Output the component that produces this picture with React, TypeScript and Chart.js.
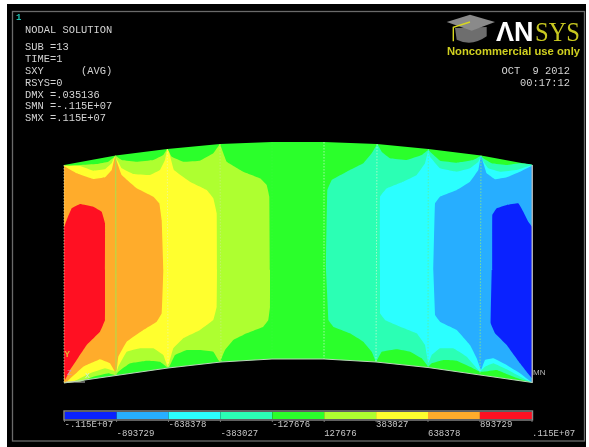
import React, { useEffect, useRef } from "react";
import { Chart, registerables } from "chart.js";

Chart.register(...registerables);

type P = [number, number];

const topEdge: P[] = [[64,165],[115.7,155.5],[167.3,149],[220,144],[272,142],[324,142],[377,144],[428.3,149],[481,155.5],[532.3,165]];
const bottomEdge: P[] = [[64,383],[116,375.5],[168,368],[221,362],[272,359],[324,359],[376,362],[428,367.5],[480,375],[532.3,382.5]];

const contourLevel5: P[] = [[64,166],[80,165],[96.7,164],[108.3,161.7],[114,157.3],[115.7,155.7],[121.7,160],[136.7,161.7],[153.3,160],[163.3,155],[167.3,149],[171.7,156.7],[183.3,161.7],[200,160.7],[213.3,153.3],[220,144.3],[226.7,161.7],[243.3,171.7],[260,178.3],[266.7,185],[269.3,196.7],[270,270],[270,306.7],[268.3,320],[263.3,326.7],[246.7,333.3],[233.3,340],[225,350],[220,361.7],[218.3,360],[213.3,351.7],[200,350],[186.7,350],[175,355],[169.3,366.7],[167.3,367.3],[160,361.7],[146.7,360.7],[130,363.3],[118.3,371.7],[115.7,375.3],[108.3,373.3],[93.3,376.7],[80,381.7],[64,382.7]];
const contourLevel6: P[] = [[64,165.5],[80,166],[93.3,170.7],[105,169.3],[111.7,163.3],[115,156],[121.7,168.3],[133.3,174],[150,175],[160,170],[165,160],[167.3,149],[169,151.7],[174,170],[190,181.7],[206.7,190],[213.3,198.3],[216.7,213.3],[217,270],[216.7,306.7],[213.3,320],[200,330],[183.3,338.3],[173.3,348.3],[169,363.3],[167.3,365.7],[163.3,355],[153.3,348.3],[140,348.3],[126.7,351.7],[118.3,366.7],[116.7,371.7],[105,368.3],[90,373.3],[73.3,381.7],[64,382.7]];
const contourLevel7: P[] = [[64,166],[76.7,173.3],[93.3,179],[105,177.3],[111.7,170],[115,156.7],[121.7,175],[136.7,188.3],[153.3,196.7],[159.3,203.3],[161.7,220],[163.3,270],[161.7,313.3],[156.7,321.7],[143.3,330],[126.7,341.7],[118.3,356.7],[116.7,370],[115,371.7],[110,363.3],[100,359.3],[83.3,366.7],[66.7,381.7],[64,382.7]];
const contourLevel8: P[] = [[64,227.3],[66.7,220],[71.7,208.3],[80,204],[93.3,206.7],[101.7,211.7],[105,223.3],[105,270],[105,320],[100,331.7],[86.7,345],[76.7,360],[70,370],[65,380],[64,370]];
const contourLevel3: P[] = [[326,270],[327.3,190],[331.7,180],[346.7,171.7],[363.3,163.3],[371.7,153.3],[377.3,144.3],[381.7,151.7],[390,158.3],[406.7,160],[421.7,155],[428.3,150],[431.7,153.3],[440,160.7],[456.7,162.7],[473.3,160],[481,155.7],[483.3,158.3],[491.7,163.3],[506.7,165],[520,163.3],[532.3,164.7],[532.3,382.3],[513.3,376.7],[496.7,370],[483.3,371.7],[480,371.7],[470,366.7],[456.7,360.7],[443.3,360],[431.7,363.3],[428.3,366.7],[421.7,358.3],[410,351.7],[396.7,349.3],[381.7,351.7],[376,361.7],[371.7,351.7],[363.3,341.7],[350,333.3],[333.3,326.7],[328.3,320]];
const contourLevel2: P[] = [[380,270],[380,196.7],[386.7,188.3],[403.3,181.7],[416.7,175],[425,163.3],[428.3,150],[430,156.7],[440,168.3],[456.7,171.7],[470,168.3],[478.3,161.7],[481,155.7],[482.3,160],[488.3,168.3],[500,171.7],[516.7,170],[532.3,165.3],[532.3,382.3],[506.7,369.3],[493.3,363.3],[485,366.7],[480,371.7],[476.7,368.3],[466.7,356.7],[453.3,348.3],[440,348.3],[431.7,355],[428.3,363.3],[425,345],[416.7,333.3],[400,326.7],[385,320],[380,313.3]];
const contourLevel1: P[] = [[433.3,270],[435,203.3],[440,196.7],[456.7,190],[470,181.7],[478.3,170],[481,155.7],[486.7,173.3],[495,179.3],[506.7,177.3],[520,171.7],[532.3,166],[532.3,382.3],[520,373.3],[506.7,365],[493.3,358.3],[485,360],[481,370],[476.7,358.3],[470,345],[456.7,330],[440,321.7],[435,315]];
const contourLevel0: P[] = [[492.3,270],[492.3,215],[496.7,208.3],[506.7,205],[518.3,203.3],[523.3,211.7],[528.3,221.7],[532.3,227.3],[532.3,378.3],[520,363.3],[506.7,345],[495,333.3],[490.7,323.3],[491.7,270]];

const legendLevels = [-1150000,-893729,-638378,-383027,-127676,127676,383027,638378,893729,1150000];
const legendLabels = ["-.115E+07","-893729","-638378","-383027","-127676","127676","383027","638378","893729",".115E+07"];
const levelColors = ["#0a22ff","#27aeff","#2bffff","#2bffb4","#2bff2b","#aeff30","#ffff2e","#ffac2b","#ff1022"];
const nodeLineColors = ["rgba(225,225,170,0.7)","rgba(160,232,80,0.9)","rgba(235,245,170,0.7)","rgba(200,240,128,0.7)","rgba(80,240,80,0.3)","rgba(210,250,210,0.7)","rgba(210,250,210,0.7)","rgba(90,240,160,0.85)","rgba(140,235,130,0.8)","#b0b0b0"];

const headerLines: [string, number][] = [["NODAL SOLUTION",30],["SUB =13",47],["TIME=1",59],["SXY      (AVG)",71],["RSYS=0",83],["DMX =.035136",95],["SMN =-.115E+07",106.5],["SMX =.115E+07",118.5]];
const dateLines: [string, number][] = [["OCT  9 2012",71],["00:17:12",83]];

const pts = (a: P[]) => a.map(([x, y]) => ({ x, y }));
const region = (a: P[], color: string) => ({
  data: pts(a), showLine: true, fill: "shape", backgroundColor: color, borderColor: color, borderWidth: 0,
  pointRadius: 0, tension: 0.05, xAxisID: "x", yAxisID: "y",
});

const LEGEND_LEFT = 64.5, LEGEND_RIGHT = 532;
const perPx = (legendLevels[9] - legendLevels[0]) / (LEGEND_RIGHT - LEGEND_LEFT);

const drawing = {
  id: "drawing",
  beforeDraw(chart: any) {
    const c = chart.ctx;
    c.save();
    c.fillStyle = "#ffffff"; c.fillRect(0, 0, 589, 447);
    c.fillStyle = "#000000"; c.fillRect(7, 4, 579, 443);
    c.strokeStyle = "#6a6a6a"; c.lineWidth = 1.3; c.strokeRect(12.5, 11.5, 572, 429.5);
    c.restore();
  },
  afterDraw(chart: any) {
    const c = chart.ctx;
    const lx = chart.scales.lx;
    c.save();
    c.textBaseline = "middle";
    c.fillStyle = "#1fc0b0"; c.font = "bold 9px 'Liberation Mono'"; c.fillText("1", 16, 18);
    c.fillStyle = "#d4d4d4"; c.font = "10.4px 'Liberation Mono'";
    headerLines.forEach(([t, y]) => c.fillText(t, 25, y));
    c.textAlign = "right";
    dateLines.forEach(([t, y]) => c.fillText(t, 570, y));
    c.textAlign = "left";

    // legend frame, ticks and labels
    c.strokeStyle = "#8a8a8a"; c.lineWidth = 1.4;
    c.strokeRect(LEGEND_LEFT - 0.5, 411, LEGEND_RIGHT - LEGEND_LEFT + 1, 9);
    c.font = "9px 'Liberation Mono'"; c.fillStyle = "#c8c8c8";
    legendLevels.forEach((v, i) => {
      const x = lx.getPixelForValue(v);
      c.strokeStyle = "#777"; c.lineWidth = 1;
      c.beginPath(); c.moveTo(x, 420); c.lineTo(x, 422); c.stroke();
      const row = i === 9 || i % 2 === 1 ? 434 : 425;
      c.fillText(legendLabels[i], x, row);
    });

    c.fillStyle = "#b8b8b8"; c.font = "8px 'Liberation Sans'"; c.fillText("MN", 533, 373);
    c.fillStyle = "#e8b030"; c.font = "bold 9px 'Liberation Mono'"; c.fillText("Y", 64.5, 355);
    c.font = "8px 'Liberation Mono'";
    c.fillStyle = "#d09ac0"; c.fillText("Z", 67, 373);
    c.fillStyle = "#d0f0d0"; c.fillText("X", 85, 376);
    c.strokeStyle = "#c0c0c0"; c.lineWidth = 1;
    c.beginPath(); c.moveTo(66, 382); c.lineTo(85, 382); c.stroke();

    // logo
    c.fillStyle = "#6e6e6e";
    c.beginPath(); c.moveTo(455, 28); c.lineTo(456.7, 39.7); c.quadraticCurveTo(471.7, 47, 486.7, 36.3); c.lineTo(486.7, 27); c.closePath(); c.fill();
    c.fillStyle = "#8a8a8a";
    c.beginPath(); c.moveTo(446.7, 22); c.lineTo(470, 14.7); c.lineTo(495, 22); c.lineTo(471.7, 30.7); c.closePath(); c.fill();
    c.strokeStyle = "#d8d820"; c.lineWidth = 1.4;
    c.beginPath(); c.moveTo(470, 22); c.lineTo(453.3, 27.3); c.lineTo(453.3, 41.3); c.stroke();
    c.textBaseline = "alphabetic";
    c.fillStyle = "#ffffff"; c.font = "bold 27px 'Liberation Sans'"; c.fillText("ΛN", 496, 41, 39);
    c.fillStyle = "#c8c820"; c.font = "28px 'Liberation Serif'"; c.fillText("SYS", 535, 41, 45);
    c.fillStyle = "#d0d020"; c.font = "bold 11.5px 'Liberation Sans'"; c.fillText("Noncommercial use only", 447, 55, 133);
    c.restore();
  },
};

export default function App() {
  const ref = useRef<HTMLCanvasElement>(null);
  useEffect(() => {
    const silhouette: P[] = [...topEdge, ...[...bottomEdge].reverse()];
    const base = [
      { ...region(silhouette, levelColors[4]), tension: 0 },
      region(contourLevel5, levelColors[5]),
      region(contourLevel6, levelColors[6]),
      region(contourLevel7, levelColors[7]),
      region(contourLevel8, levelColors[8]),
      region(contourLevel3, levelColors[3]),
      region(contourLevel2, levelColors[2]),
      region(contourLevel1, levelColors[1]),
      region(contourLevel0, levelColors[0]),
    ];
    const nodeLines = topEdge.map((t, i) => ({
      data: pts([t, bottomEdge[i]]), showLine: true, fill: false, borderColor: nodeLineColors[i],
      borderWidth: 1, borderDash: i === 1 || i === 9 ? [] : [1.5, 1.5], pointRadius: 0, xAxisID: "x", yAxisID: "y",
    }));
    const bottomLine = {
      data: pts(bottomEdge), showLine: true, fill: false, borderColor: "#b8d8b8", borderWidth: 1,
      pointRadius: 0, xAxisID: "x", yAxisID: "y",
    };
    const legendCells = levelColors.map((color, i) => ({
      data: [
        { x: legendLevels[i], y: 412 }, { x: legendLevels[i + 1], y: 412 },
        { x: legendLevels[i + 1], y: 419 }, { x: legendLevels[i], y: 419 },
      ],
      showLine: true, fill: "shape", backgroundColor: color, borderColor: color, borderWidth: 0,
      pointRadius: 0, xAxisID: "lx", yAxisID: "y",
    }));
    const ordered = [...base, ...nodeLines, bottomLine, ...legendCells].map((d, i) => ({ ...d, order: -i }));
    const chart = new Chart(ref.current!, {
      type: "scatter",
      data: { datasets: ordered as any },
      options: {
        animation: false,
        responsive: false,
        devicePixelRatio: 1,
        layout: { padding: 0 },
        plugins: { legend: { display: false }, tooltip: { enabled: false } },
        scales: {
          x: { type: "linear", min: 0, max: 589, display: false },
          y: { type: "linear", min: 0, max: 447, reverse: true, display: false },
          lx: {
            type: "linear", display: false,
            min: legendLevels[0] - LEGEND_LEFT * perPx,
            max: legendLevels[0] + (589 - LEGEND_LEFT) * perPx,
          },
        },
      },
      plugins: [drawing],
    } as any);
    return () => chart.destroy();
  }, []);
  return (
    <div style={{ position: "absolute", left: 0, top: 0, width: 589, height: 447, overflow: "hidden", background: "#fff" }}>
      <canvas ref={ref} width={589} height={447} style={{ display: "block", filter: "blur(0.45px)" }} />
    </div>
  );
}
